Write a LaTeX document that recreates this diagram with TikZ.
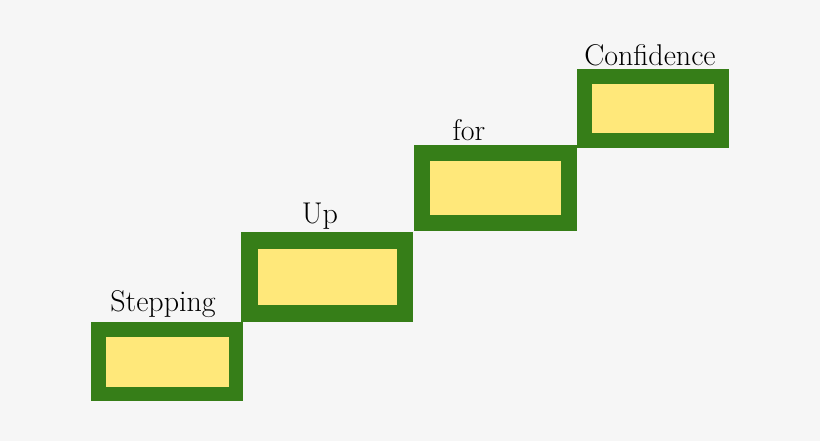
\documentclass[tikz,border=0pt]{standalone}
\begin{document}
\begin{tikzpicture}[x=1pt,y=-1pt,
  stair/.style={fill=stepgreen},
  pad/.style={fill=padyellow},
  lbl/.style={font=\fontsize{30}{32}\selectfont, anchor=base, inner sep=0pt}]
\definecolor{stepgreen}{HTML}{367E18}
\definecolor{padyellow}{HTML}{FFE87A}
\definecolor{bg}{HTML}{F6F6F6}
\fill[bg] (0,0) rectangle (820,441);
\useasboundingbox (0,0) rectangle (820,441);
\fill[stair] (91,322) rectangle (243,401);
\fill[pad] (106,337) rectangle (229,387);
\fill[stair] (241,232) rectangle (413,322);
\fill[pad] (258,249) rectangle (397,305);
\fill[stair] (414,145) rectangle (577,231);
\fill[pad] (430,161) rectangle (561,215);
\fill[stair] (577,69) rectangle (729,148);
\fill[pad] (592,84) rectangle (714,133);
\node[lbl] (t1) at (163,311) {Stepping};
\node[lbl] (t2) at (320,223) {Up};
\node[lbl] (t3) at (469,141) {for};
\node[lbl] (t4) at (650,66) {Confidence};
\end{tikzpicture}
\end{document}
